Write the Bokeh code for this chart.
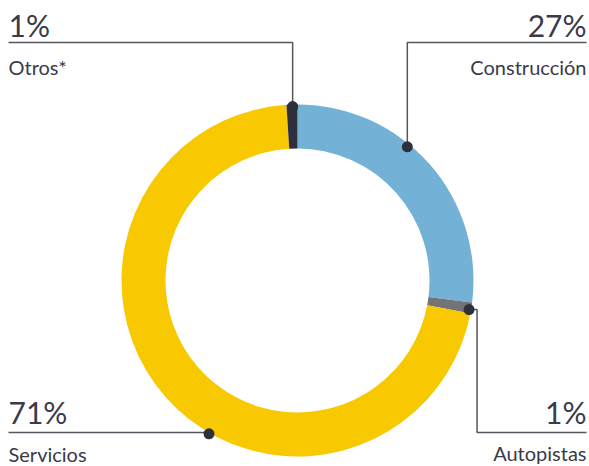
from bokeh.plotting import figure
from bokeh.models import Range1d
from bokeh.core.properties import value
from bokeh.embed import file_html
from bokeh.resources import INLINE
import math

# ---- data ----
categories = ["Construcción", "Autopistas", "Servicios", "Otros*"]
shares = [27, 1, 71, 1]
pct_labels = ["27%", "1%", "71%", "1%"]
colors = ["#73B2D6", "#747476", "#F8C800", "#2E2F3C"]

# ---- layout (reference-pixel coordinates; y flipped below) ----
W, H = 589, 466
OX, OY = 0, 0
def X(rx):
    return rx - OX
def Y(ry):
    return H - (ry - OY)

cx, cy = X(297), Y(280)
r_out, r_in = 176, 132

p = figure(width=W, height=H, output_backend="svg", toolbar_location=None,
           x_range=Range1d(0, W), y_range=Range1d(0, H), min_border=0)
p.axis.visible = False
p.grid.visible = False
p.outline_line_color = None
p.background_fill_color = "white"

# wedges clockwise from 12 o'clock
start = math.pi / 2
starts, ends = [], []
total = float(sum(shares))
for s in shares:
    a = 2 * math.pi * s / total
    ends.append(start)
    starts.append(start - a)
    start -= a

p.annular_wedge(x=[cx] * 4, y=[cy] * 4, inner_radius=r_in, outer_radius=r_out,
                start_angle=starts, end_angle=ends, fill_color=colors,
                line_color=None)

dot_ang = {"Construcción": 50.6, "Autopistas": -9.6, "Servicios": -120.0, "Otros*": 91.6}
dot_r = {"Construcción": 173, "Autopistas": 174, "Servicios": 177, "Otros*": 174}
line_col = "#55555F"
txt_col = "#3A3A48"
dots = {}
for c in categories:
    a = math.radians(dot_ang[c])
    dots[c] = (cx + dot_r[c] * math.cos(a), cy + dot_r[c] * math.sin(a))

left_x, right_x = X(8), X(586)
top_line, bot_line = Y(42), Y(432)

dx, dy = dots["Otros*"]
p.line([left_x, dx, dx], [top_line, top_line, dy], line_color=line_col, line_width=1.5)
dx, dy = dots["Construcción"]
p.line([dx, dx, right_x], [dy, top_line, top_line], line_color=line_col, line_width=1.5)
dx, dy = dots["Autopistas"]
p.line([dx, dx + 8, dx + 8, right_x], [dy, dy, bot_line, bot_line], line_color=line_col, line_width=1.5)
dx, dy = dots["Servicios"]
p.line([left_x, dx], [bot_line, bot_line], line_color=line_col, line_width=1.5)

p.scatter([dots[c][0] for c in categories], [dots[c][1] for c in categories],
          size=11, fill_color="#2E2F3C", line_color=None)

font = value("Lato")
pct_size = "30px"
lab_size = "20px"
# (x, align, pct vertical middle, label vertical middle) in reference pixels
place = {
    "Otros*": (left_x, "left", Y(24), Y(66)),
    "Construcción": (right_x, "right", Y(24), Y(66)),
    "Autopistas": (right_x, "right", Y(411), Y(452)),
    "Servicios": (left_x, "left", Y(411), Y(453)),
}
for c, pl in zip(categories, pct_labels):
    x, al, yb, yl = place[c]
    p.text(x=[x], y=[yb], text=[pl], text_font=font, text_font_size=pct_size,
           text_color=txt_col, text_align=al, text_baseline="middle")
    p.text(x=[x], y=[yl], text=[c], text_font=font, text_font_size=lab_size,
           text_color=txt_col, text_align=al, text_baseline="middle")

open("out.html", "w").write(file_html(p, INLINE))
